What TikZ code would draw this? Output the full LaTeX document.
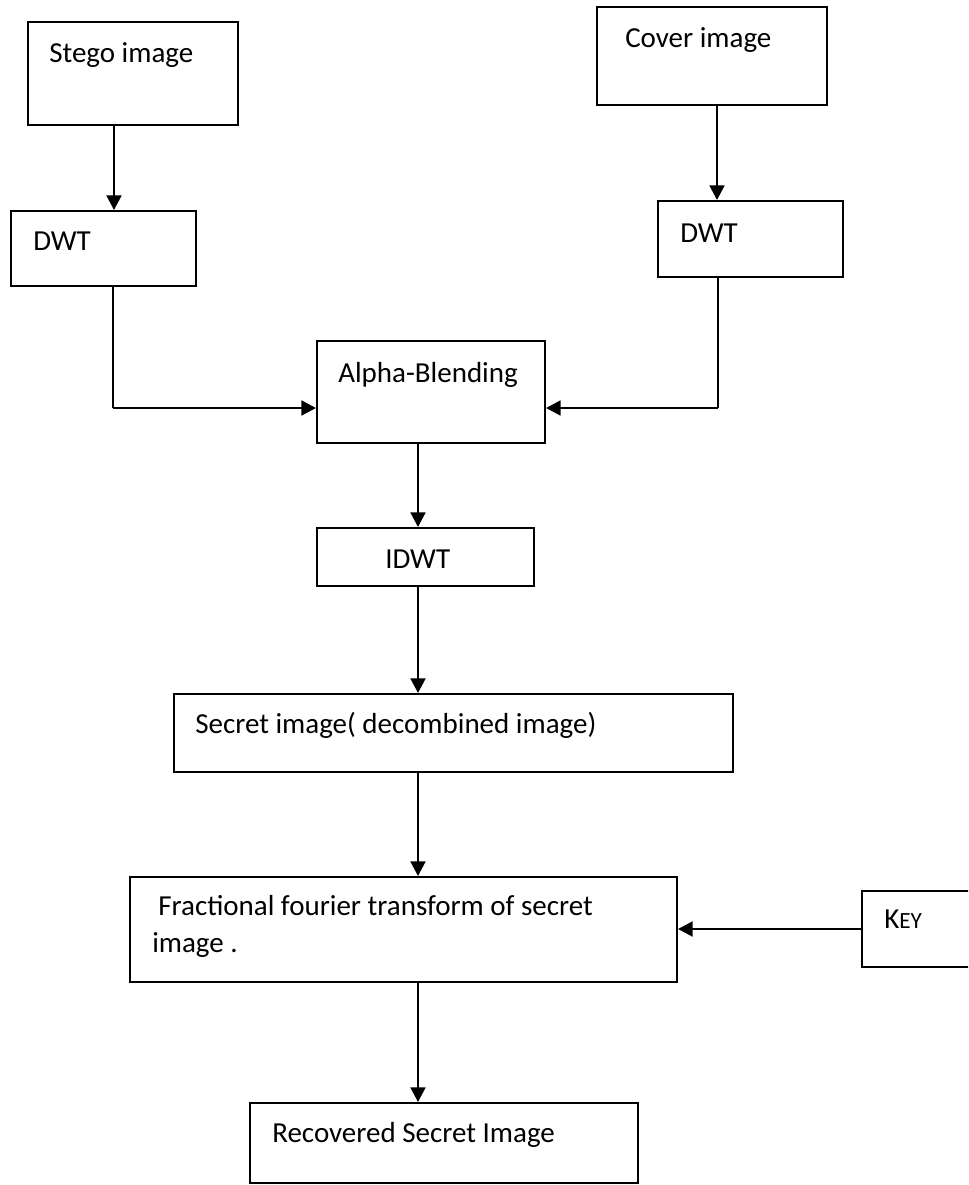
\documentclass[tikz,border=0pt]{standalone}
\usepackage{fontspec}
\setmainfont{Carlito}
\usetikzlibrary{arrows.meta,fit}
\tikzset{
  box/.style={draw, rectangle, line width=1.4pt, inner sep=0pt},
  lbl/.style={anchor=base west, inner sep=0pt, font=\fontsize{21.75pt}{26pt}\selectfont},
  flow/.style={line width=2.1pt, -{Triangle[length=11pt,width=11pt]}},
  feed/.style={line width=1.3pt},
}
\begin{document}
\begin{tikzpicture}[x=0.75pt,y=-0.75pt]
\fill[white] (0,0) rectangle (968,1185);
\useasboundingbox (0,0) rectangle (968,1185);
\clip (0,0) rectangle (968,1185);

% boxes
\node[box, fit={(28,22) (238,125)}]   (stego) {};
\node[box, fit={(11,211) (196,286)}]  (dwtA) {};
\node[box, fit={(597,7) (827,105)}]   (cover) {};
\node[box, fit={(658,201) (843,277)}] (dwtB) {};
\node[box, fit={(317,341) (545,443)}] (alpha) {};
\node[box, fit={(317,528) (534,586)}] (idwt) {};
\node[box, fit={(174,694) (733,772)}] (secret) {};
\node[box, fit={(130,877) (677,982)}] (frft) {};
\node[box, fit={(862,891) (990,967)}] (key) {};
\node[box, fit={(250,1103) (638,1183)}] (recov) {};

% texts
\node[lbl] (tstego)  at (49,62)    {Stego image};
\node[lbl] (tdwtA)   at (33,250)   {DWT};
\node[lbl] (tcover)  at (625,47)   {Cover image};
\node[lbl] (tdwtB)   at (680,242)  {DWT};
\node[lbl] (talpha)  at (338,382)  {Alpha-Blending};
\node[lbl] (tidwt)   at (385,568)  {IDWT};
\node[lbl] (tsecret) at (195,733)  {Secret image( decombined image)};
\node[lbl] (tfrftA)  at (158,915)  {Fractional fourier transform of secret};
\node[lbl] (tfrftB)  at (152,952)  {image .};
\node[lbl] (tkey)    at (884,928)  {K{\fontsize{17.4pt}{20pt}\selectfont EY}};
\node[lbl] (trecov)  at (272,1142) {Recovered Secret Image};

% connectors
\draw[flow] (stego.south -| 114,0) -- (dwtA.north -| 114,0);
\draw[flow] (cover.south -| 717,0) -- (dwtB.north -| 717,0);

\coordinate (elbowA) at (113,408);
\coordinate (elbowB) at (718,408);
\draw[feed] (dwtA.south -| elbowA) -- (elbowA);
\draw[flow] (elbowA) -- (alpha.west |- elbowA);
\draw[feed] (dwtB.south -| elbowB) -- (elbowB);
\draw[flow] (elbowB) -- (alpha.east |- elbowB);

\draw[flow] (alpha.south -| 418,0)  -- (idwt.north -| 418,0);
\draw[flow] (idwt.south -| 418,0)   -- (secret.north -| 418,0);
\draw[flow] (secret.south -| 418,0) -- (frft.north -| 418,0);
\draw[flow] (key.west |- 0,929)     -- (frft.east |- 0,929);
\draw[flow] (frft.south -| 418,0)   -- (recov.north -| 418,0);
\end{tikzpicture}
\end{document}
